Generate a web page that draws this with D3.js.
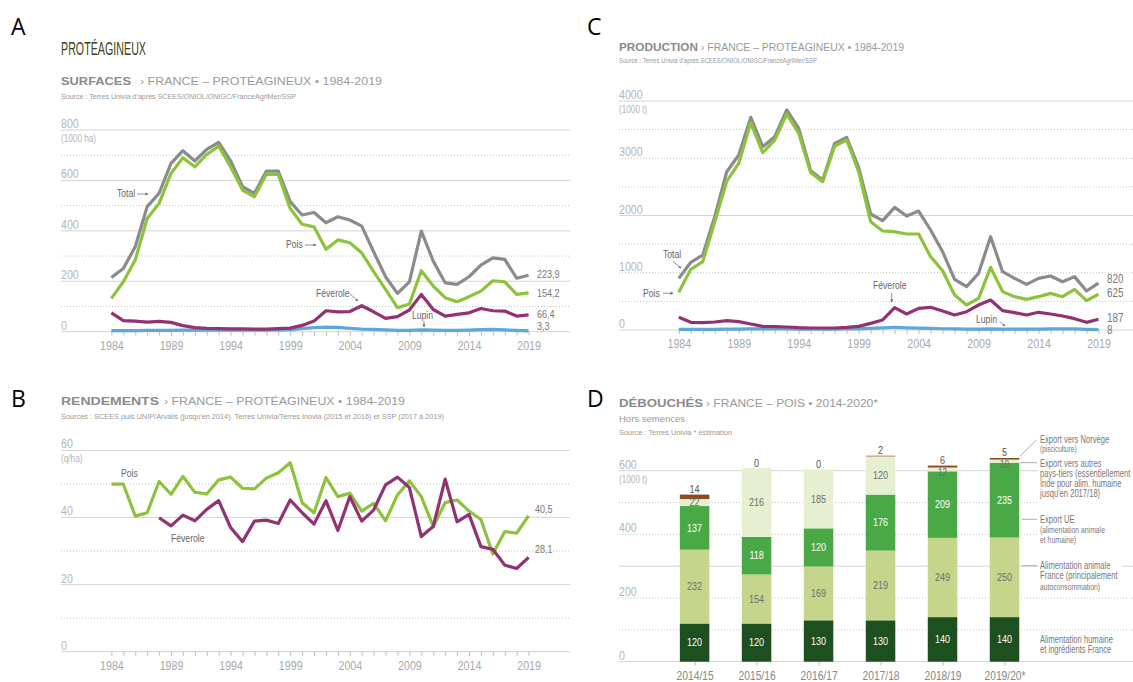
<!DOCTYPE html>
<html>
<head>
<meta charset="utf-8">
<script src="https://cdn.jsdelivr.net/npm/d3@7"></script>
<style>
  body { margin: 0; background: #fff; }
  svg text { font-family: "Liberation Sans", sans-serif; }
</style>
</head>
<body>
<svg width="1133" height="682"></svg>
<script>
// ---- data ----
var years = [1984,1985,1986,1987,1988,1989,1990,1991,1992,1993,1994,1995,1996,1997,1998,1999,2000,2001,
             2002,2003,2004,2005,2006,2007,2008,2009,2010,2011,2012,2013,2014,2015,2016,2017,2018,2019];
var yearLabels = [1984,1989,1994,1999,2004,2009,2014,2019];

// surfaces (1000 ha)
var surfTotal = [215,251,337,496,549,668,718,677,723,751,678,575,549,637,637,516,463,473,
                 432,456,443,419,317,218,152,198,399,280,194,188,218,264,293,287,212,223.9];
var surfPois = [132,198,284,449,509,628,690,654,703,736,654,562,535,625,624,489,426,416,
                327,364,353,313,238,168,95,110,242,181,135,119,139,161,202,198,148,154.2];
var surfFeverole = [75,44,42,38,41,37,24,16,13,12,11,11,10,10,12,14,25,42,
                    83,79,80,103,79,53,60,86,148,88,62,69,75,92,83,82,62,66.4];
var surfLupin = [4,4,4,5,5,5,6,6,6,6,6,6,6,6,7,8,12,16,
                 18,17,13,10,9,7,5,5,7,6,5,5,6,8,9,7,5,3.3];

// production (1000 t)
var prodTotal = [902,1182,1310,1980,2765,3057,3714,3202,3377,3843,3522,2783,2620,3260,3365,2835,2026,1910,
                 2142,1991,2078,1747,1368,885,757,990,1630,1019,902,798,902,943,844,932,681,820];
var prodPois = [658,1060,1194,1892,2602,2911,3621,3097,3318,3773,3435,2748,2591,3214,3318,2765,1892,1729,
                1717,1677,1677,1281,1036,611,437,553,1095,670,582,536,582,640,582,710,512,625];
var prodFeverole = [221,134,128,140,163,146,105,64,58,52,41,35,35,35,47,64,116,175,
                    390,280,378,396,332,262,320,437,524,338,303,262,309,280,245,198,134,187];
var prodLupin = [10,10,12,12,14,15,18,18,18,18,17,17,17,17,18,20,30,38,
                 48,38,32,28,22,18,14,14,18,16,14,14,16,20,22,18,12,8];

// rendements (q/ha)
var rendPois = [49.9,49.9,40.4,41.4,50.7,46.9,52.2,47.5,47.0,51.2,52.0,48.7,48.5,51.7,53.3,56.3,44.4,41.4,
                51.9,46.2,47.2,41.9,44.2,39.0,46.7,50.9,46.2,37.3,44.4,45.2,41.9,39.4,29.1,35.8,35.3,40.5];
var rendFeverole = [null,null,null,null,39.9,37.5,40.7,39.0,42.4,45.0,37.0,32.8,38.9,39.2,38.2,45.2,41.4,38.0,
                    45.0,36.1,46.2,38.9,42.2,49.7,52.0,48.9,34.3,37.3,51.4,38.7,40.9,31.3,30.5,25.8,24.8,28.1];

// débouchés pois (1000 t)
var campaigns = ["2014/15","2015/16","2016/17","2017/18","2018/19","2019/20*"];
var debHumaine = [120,120,130,130,140,140];
var debAnimale = [232,154,169,219,249,250];
var debExportUE = [137,118,120,176,209,235];
var debAutres = [22,216,185,120,12,10];
var debNorvege = [14,0,0,2,6,5];

// ---- colours ----
var cTotal = "#8b8b8b", cPois = "#8cc23c", cFev = "#933271", cLupin = "#5ea7da";

var svg = d3.select("svg");
svg.append("rect").attr("width", 1133).attr("height", 682).attr("fill", "#fff");

// arrow head for the small annotations
svg.append("defs").append("marker")
  .attr("id", "arr").attr("viewBox", "0 0 6 6").attr("refX", 5).attr("refY", 3)
  .attr("markerWidth", 4).attr("markerHeight", 4).attr("orient", "auto")
  .append("path").attr("d", "M0,0 L6,3 L0,6 z").attr("fill", "#777");

// "nar" texts get squeezed at the end to look like a condensed face
function txt(x, y, s, size, fill, extra) {
  var t = svg.append("text").attr("x", x).attr("y", y).text(s)
    .attr("class", "nar")
    .style("font-size", size + "px").attr("fill", fill);
  if (extra) extra(t);
  return t;
}

function arrow(x1, y1, x2, y2) {
  svg.append("line").attr("x1", x1).attr("y1", y1).attr("x2", x2).attr("y2", y2)
    .attr("stroke", "#777").attr("stroke-width", 0.8).attr("marker-end", "url(#arr)");
}

// title line: bold wide keyword + lighter rest
function panelTitle(x, y, bold, boldLen, rest, restX, restLen, size) {
  txt(x, y, bold, size, "#8a8a8a", function (t) {
    t.attr("class", null).style("font-weight", "bold")
     .attr("textLength", boldLen).attr("lengthAdjust", "spacingAndGlyphs");
  });
  txt(restX, y, rest, size, "#9a9a9a", function (t) {
    t.attr("class", null)
     .attr("textLength", restLen).attr("lengthAdjust", "spacingAndGlyphs");
  });
}

function source(x, y, s, size, len) {
  txt(x, y, s, size, "#999", function (t) {
    t.attr("class", null).attr("textLength", len).attr("lengthAdjust", "spacingAndGlyphs");
  });
}

// generic line panel
function linePanel(o) {
  var g = svg.append("g");
  var x = d3.scaleLinear().domain([1984, 2019]).range(o.xr);
  var y = d3.scaleLinear().domain([0, o.max]).range(o.yr);

  g.selectAll("line.grid").data(o.grid).enter().append("line")
    .attr("x1", o.gx[0]).attr("x2", o.gx[1])
    .attr("y1", function (d) { return y(d); }).attr("y2", function (d) { return y(d); })
    .attr("stroke", function (d) { return o.solid.indexOf(d) >= 0 ? "#d4d4d4" : "#c4c4c4"; })
    .attr("stroke-width", 1)
    .attr("stroke-dasharray", function (d) { return o.solid.indexOf(d) >= 0 ? null : "1,2"; });

  g.selectAll("text.ylab").data(o.labels).enter().append("text")
    .attr("class", "nar")
    .attr("x", o.gx[0]).attr("y", function (d) { return y(d) - 2; })
    .style("font-size", "13px").attr("fill", "#b5b5b5")
    .text(function (d) { return d; });

  g.append("text").attr("class", "nar").attr("x", o.gx[0]).attr("y", y(o.max) + 12)
    .style("font-size", "10px").attr("fill", "#b5b5b5").text(o.unit);

  // year axis, a tick every year, a label every 5 years
  var ax = g.append("g").attr("transform", "translate(0," + o.yr[0] + ")")
    .call(d3.axisBottom(x).tickValues(years).tickSize(4).tickPadding(5)
      .tickFormat(function (d) { return yearLabels.indexOf(d) >= 0 ? d : ""; }));
  ax.select(".domain").remove();
  ax.selectAll("line").attr("stroke", "#bdbdbd");
  ax.selectAll("text").attr("class", "nar").attr("fill", "#a8a8a8").style("font-size", "13px")
    .style("font-family", "Liberation Sans, sans-serif");

  var line = d3.line()
    .defined(function (d) { return d != null; })
    .x(function (d, i) { return x(years[i]); })
    .y(function (d) { return y(d); });

  o.series.forEach(function (s) {
    g.append("path").datum(s.v).attr("d", line)
      .attr("fill", "none").attr("stroke", s.c).attr("stroke-width", 3.2)
      .attr("stroke-linejoin", "round");
    if (s.lab) {
      g.append("text").attr("class", "nar").attr("x", o.endX).attr("y", y(s.v[s.v.length - 1]) + s.dy)
        .style("font-size", o.endSize + "px").attr("fill", "#777").text(s.lab);
    }
  });
}

// ---- panel letters ----
[["A", 11, 35], ["B", 11, 407], ["C", 587, 35], ["D", 587, 407]].forEach(function (p) {
  txt(p[1], p[2], p[0], 23, "#000", function (t) {
    t.attr("class", null).style("font-family", "Open Sans, sans-serif");
  });
});

txt(61, 54.5, "PROTÉAGINEUX", 19, "#3f3f16", function (t) {
  t.attr("class", null).attr("textLength", 85).attr("lengthAdjust", "spacingAndGlyphs");
});

// ---- A : surfaces ----
panelTitle(61, 85, "SURFACES", 70, "›  FRANCE – PROTÉAGINEUX • 1984-2019", 140, 242, 11.5);
source(61, 98.5, "Source : Terres Univia d'après SCEES/ONIOL/ONIGC/FranceAgriMer/SSP", 8, 235);
linePanel({
  xr: [111.4, 528.6], yr: [331.7, 130], max: 800, gx: [61, 570],
  grid: [0,100,200,300,400,500,600,700,800], solid: [0,200,400,600,800], labels: [0,200,400,600,800],
  unit: "(1000 ha)", endX: 537, endSize: 11,
  series: [
    { v: surfLupin, c: cLupin, lab: "3,3", dy: -1 },
    { v: surfFeverole, c: cFev, lab: "66,4", dy: 3 },
    { v: surfTotal, c: cTotal, lab: "223,9", dy: 3 },
    { v: surfPois, c: cPois, lab: "154,2", dy: 4 }
  ]
});
txt(117, 197, "Total", 10.5, "#666"); arrow(137, 194, 148, 194);
txt(286, 248, "Pois", 10.5, "#666"); arrow(305, 245, 316, 245);
txt(316, 296.5, "Féverole", 10.5, "#666"); arrow(350, 294, 358, 301);
txt(412, 319, "Lupin", 10.5, "#666"); arrow(424, 321, 424, 327);

// ---- C : production ----
panelTitle(619, 50.7, "PRODUCTION", 79, "›  FRANCE – PROTÉAGINEUX • 1984-2019", 701, 203, 10);
source(619, 63, "Source : Terres Univia d'après SCEES/ONIOL/ONIGC/FranceAgriMer/SSP", 7, 198);
linePanel({
  xr: [678.8, 1098.5], yr: [330, 101], max: 4000, gx: [619, 1133],
  grid: [0,500,1000,1500,2000,2500,3000,3500,4000], solid: [0,2000,4000], labels: [0,1000,2000,3000,4000],
  unit: "(1000 t)", endX: 1107, endSize: 12,
  series: [
    { v: prodLupin, c: cLupin, lab: "8", dy: 4.5 },
    { v: prodFeverole, c: cFev, lab: "187", dy: 2.5 },
    { v: prodTotal, c: cTotal, lab: "820", dy: 0 },
    { v: prodPois, c: cPois, lab: "625", dy: 2.5 }
  ]
});
txt(663, 258, "Total", 10.5, "#666"); arrow(673, 261.5, 681, 268);
txt(643, 297, "Pois", 10.5, "#666"); arrow(663, 293.3, 673, 293.3);
txt(873, 289, "Féverole", 10.5, "#666"); arrow(891.7, 293, 891.7, 302);
txt(976, 323, "Lupin", 10.5, "#666"); arrow(999.5, 321.5, 1005, 326);

// ---- B : rendements ----
panelTitle(61, 405, "RENDEMENTS", 98, "›  FRANCE – PROTÉAGINEUX • 1984-2019", 164, 241, 11.5);
source(61, 418.5, "Sources : SCEES puis UNIP/Arvalis (jusqu'en 2014), Terres Univia/Terres Inovia (2015 et 2016) et SSP (2017 à 2019)", 8, 383);
linePanel({
  xr: [111.4, 528.6], yr: [651.7, 450.3], max: 60, gx: [61, 570],
  grid: [0,10,20,30,40,50,60], solid: [0,20,40,60], labels: [0,20,40,60],
  unit: "(q/ha)", endX: 535, endSize: 11,
  series: [
    { v: rendPois, c: cPois, lab: "40,5", dy: -2.3 },
    { v: rendFeverole, c: cFev, lab: "28,1", dy: -4 }
  ]
});
txt(121, 476.5, "Pois", 10.5, "#666");
txt(171, 542, "Féverole", 10.5, "#666");

// ---- D : débouchés ----
panelTitle(619, 407.3, "DÉBOUCHÉS", 84, "›  FRANCE – POIS • 2014-2020*", 706, 172, 10);
txt(619, 421.5, "Hors semences", 9.5, "#999", function (t) { t.attr("class", null); });
source(619, 435, "Source : Terres Univia    * estimation", 8, 113);

var keys = ["humaine", "animale", "ue", "autres", "norvege"];
var segColor = { humaine: "#1e4f1f", animale: "#c5d68c", ue: "#4aa947", autres: "#e6efd0", norvege: "#8a4a1c" };
var segText = { humaine: "#fff", animale: "#6e6e6e", ue: "#fff", autres: "#6e6e6e" };
var rows = campaigns.map(function (c, i) {
  return { campaign: c, humaine: debHumaine[i], animale: debAnimale[i], ue: debExportUE[i],
           autres: debAutres[i], norvege: debNorvege[i] };
});
var stacked = d3.stack().keys(keys)(rows);

var xD = d3.scalePoint().domain(campaigns).range([694.6, 1004.5]);
var yD = d3.scaleLinear().domain([0, 600]).range([661.7, 470.7]);
var bw = 29.5;
var gD = svg.append("g");

var dGrid = [0,100,200,300,400,500,600], dSolid = [0,300,600];
gD.selectAll("line.grid").data(dGrid).enter().append("line")
  .attr("x1", 619).attr("x2", 1133)
  .attr("y1", function (d) { return yD(d); }).attr("y2", function (d) { return yD(d); })
  .attr("stroke", function (d) { return dSolid.indexOf(d) >= 0 ? "#d4d4d4" : "#c4c4c4"; })
  .attr("stroke-dasharray", function (d) { return dSolid.indexOf(d) >= 0 ? null : "1,2"; });
gD.selectAll("text.ylab").data([0,200,400,600]).enter().append("text").attr("class", "nar")
  .attr("x", 619).attr("y", function (d) { return yD(d) - 2; })
  .style("font-size", "13px").attr("fill", "#b5b5b5").text(function (d) { return d; });
gD.append("text").attr("class", "nar").attr("x", 619).attr("y", yD(600) + 12)
  .style("font-size", "10px").attr("fill", "#b5b5b5").text("(1000 t)");

var axD = gD.append("g").attr("transform", "translate(0," + yD(0) + ")")
  .call(d3.axisBottom(xD).tickSize(4).tickPadding(5));
axD.select(".domain").remove();
axD.selectAll("line").attr("stroke", "#bdbdbd");
axD.selectAll("text").attr("class", "nar").attr("fill", "#888").style("font-size", "12.5px")
  .style("font-family", "Liberation Sans, sans-serif");

var layer = gD.selectAll("g.layer").data(stacked).enter().append("g")
  .attr("fill", function (s) { return segColor[s.key]; });
layer.selectAll("rect").data(function (s) { return s; }).enter().append("rect")
  .attr("x", function (d) { return xD(d.data.campaign) - bw / 2; })
  .attr("width", bw)
  .attr("y", function (d) { return yD(d[1]); })
  .attr("height", function (d) { return yD(d[0]) - yD(d[1]); });

// value labels (thin segments: label hangs just under the segment)
stacked.forEach(function (s) {
  gD.selectAll(null).data(s).enter().append("text").attr("class", "nar")
    .attr("x", function (d) { return xD(d.data.campaign); })
    .attr("y", function (d) {
      if (s.key === "norvege") return yD(d[1]) - 1.5;
      if (yD(d[0]) - yD(d[1]) < 6) return yD(d[0]) + 5;
      return (yD(d[0]) + yD(d[1])) / 2 + 3.7;
    })
    .attr("text-anchor", "middle")
    .style("font-size", function (d) { return (s.key !== "norvege" && yD(d[0]) - yD(d[1]) < 6) ? "10px" : "11px"; })
    .attr("fill", s.key === "norvege" ? "#555" : segText[s.key])
    .text(function (d) {
      var v = d.data[s.key];
      return (v === 0 && s.key !== "norvege") ? "" : v;
    });
});

// legend on the right (scaled horizontally, like a condensed face)
var legend = [
  { lines: ["Export vers Norvège"], y: 443, size: 10 },
  { lines: ["(pisciculture)"], y: 451.5, size: 8.5 },
  { lines: ["Export vers autres", "pays-tiers (essentiellement", "Inde pour alim. humaine", "jusqu'en 2017/18)"], y: 466.5, size: 10 },
  { lines: ["Export UE"], y: 523, size: 10 },
  { lines: ["(alimentation animale", "et humaine)"], y: 532.5, size: 9 },
  { lines: ["Alimentation animale", "France (principalement"], y: 569, size: 10 },
  { lines: ["autoconsommation)"], y: 589.5, size: 9 },
  { lines: ["Alimentation humaine", "et ingrédients France"], y: 642.5, size: 10 }
];
gD.append("rect").attr("x", 1038).attr("y", 433).attr("width", 95).attr("height", 111).attr("fill", "#fff");
gD.append("rect").attr("x", 1038).attr("y", 560).attr("width", 84).attr("height", 33).attr("fill", "#fff");
gD.append("rect").attr("x", 1038).attr("y", 633).attr("width", 95).attr("height", 23).attr("fill", "#fff");
legend.forEach(function (b) {
  b.lines.forEach(function (l, i) {
    gD.append("text")
      .attr("transform", "translate(1040," + (b.y + i * 10.3) + ") scale(0.76,1)")
      .style("font-size", b.size + "px").attr("fill", "#777").text(l);
  });
});
[[1020, 456, 1036.5, 440], [1020, 462.7, 1037, 462.7], [1022, 519.3, 1037, 519.3], [1022, 565.7, 1037, 565.7]]
  .forEach(function (l) {
    gD.append("line").attr("x1", l[0]).attr("y1", l[1]).attr("x2", l[2]).attr("y2", l[3])
      .attr("stroke", "#999").attr("stroke-width", 0.8);
  });

// squeeze the narrow texts (no condensed face available offline)
svg.selectAll("text.nar").each(function () {
  var w = this.getComputedTextLength();
  if (w > 0) d3.select(this).attr("textLength", w * 0.82).attr("lengthAdjust", "spacingAndGlyphs");
});
</script>
</body>
</html>
